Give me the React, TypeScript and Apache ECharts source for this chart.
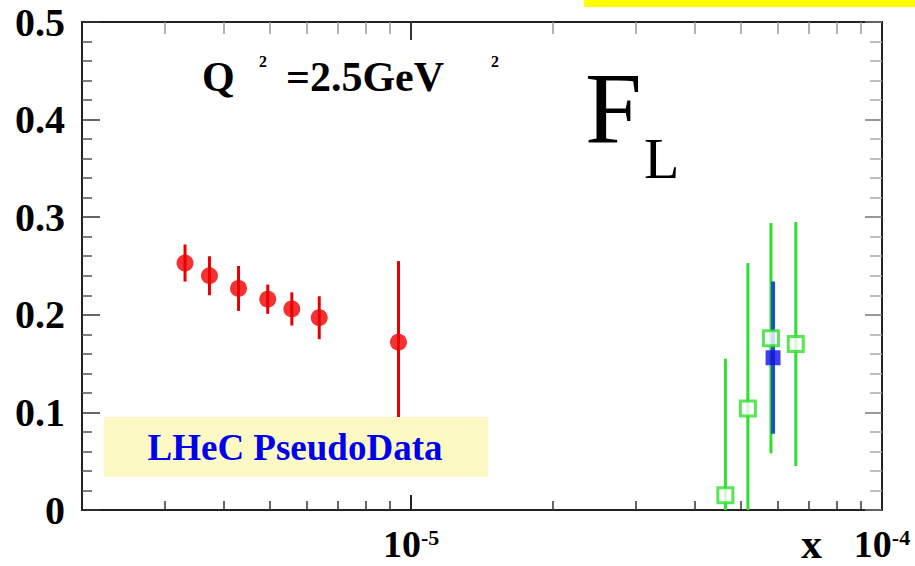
import React, { useEffect, useRef } from 'react';
import * as echarts from 'echarts';

// ---- data ----
const redX = [3.31e-6, 3.73e-6, 4.3e-6, 4.96e-6, 5.58e-6, 6.38e-6, 9.4e-6];
const redY = [0.253, 0.240, 0.227, 0.216, 0.206, 0.197, 0.172];
const redErr = [0.019, 0.020, 0.023, 0.015, 0.017, 0.022, 0.083];

const greenX = [4.65e-5, 5.19e-5, 5.81e-5, 6.56e-5];
const greenY = [0.015, 0.104, 0.176, 0.170];
const greenErr = [0.140, 0.149, 0.118, 0.125];

const blueX = [5.87e-5];
const blueY = [0.156];
const blueErr = [0.078];

const xMin = 2e-6;
const xMax = 1e-4;
const minorTicksX = [3e-6, 4e-6, 5e-6, 6e-6, 7e-6, 8e-6, 9e-6, 2e-5, 3e-5, 4e-5, 5e-5, 6e-5, 7e-5, 8e-5, 9e-5];
const majorTicksX = [1e-5];
const labelTicksX = [1e-5, 1e-4];

const yMin = 0;
const yMax = 0.5;
const yStep = 0.1;

const SERIF = '"Liberation Serif", "Times New Roman", serif';

const lg = (v: number) => Math.log10(v);
const bars = (xs: number[], ys: number[], es: number[]) =>
  xs.map((x, i) => [lg(x), Math.max(yMin, ys[i] - es[i]), Math.min(yMax, ys[i] + es[i])]);
const pts = (xs: number[], ys: number[]) => xs.map((x, i) => [lg(x), ys[i]]);

const errSeries = (name: string, data: number[][], color: string, width: number) => ({
  type: 'custom',
  name,
  data,
  silent: true,
  encode: { x: 0, y: [1, 2] },
  renderItem: (_p: any, api: any) => {
    const a = api.coord([api.value(0), api.value(1)]);
    const b = api.coord([api.value(0), api.value(2)]);
    return {
      type: 'line',
      shape: { x1: a[0], y1: a[1], x2: b[0], y2: b[1] },
      style: { stroke: color, lineWidth: width },
    };
  },
});

export default function App() {
  const ref = useRef<HTMLDivElement>(null);
  useEffect(() => {
    if (!ref.current) return;
    const chart = echarts.init(ref.current, undefined, { renderer: 'svg' });
    const axisLine = { show: true, onZero: false, lineStyle: { color: '#222', width: 2 } };
    const option: any = {
      animation: false,
      backgroundColor: '#ffffff',
      grid: { left: 82, right: 33, top: 22, bottom: 56 },
      xAxis: [
        {
          type: 'value', position: 'bottom', min: lg(xMin), max: lg(xMax),
          axisLine, splitLine: { show: false },
          axisTick: { show: true, inside: true, length: 9, customValues: minorTicksX.map(lg), lineStyle: { color: '#333', width: 1.5 } },
          axisLabel: {
            show: true, margin: 16, customValues: labelTicksX.map(lg),
            formatter: (v: number) => `{b|10}{s|${Math.round(v)}}`,
            rich: {
              b: { fontSize: 38, fontWeight: 'bold', fontFamily: SERIF, color: '#000', lineHeight: 36 },
              s: { fontSize: 22, fontWeight: 'bold', fontFamily: SERIF, color: '#000', lineHeight: 10, verticalAlign: 'top' },
            },
          },
        },
        {
          type: 'value', position: 'bottom', min: lg(xMin), max: lg(xMax),
          axisLine: { show: false, onZero: false }, splitLine: { show: false },
          axisTick: { show: true, inside: true, length: 15, customValues: majorTicksX.map(lg), lineStyle: { color: '#222', width: 2 } },
          axisLabel: { show: false },
        },
        {
          type: 'value', position: 'top', min: lg(xMin), max: lg(xMax),
          axisLine, splitLine: { show: false },
          axisTick: { show: true, inside: true, length: 12, customValues: minorTicksX.map(lg), lineStyle: { color: '#999', width: 1.5 } },
          axisLabel: { show: false },
        },
        {
          type: 'value', position: 'top', min: lg(xMin), max: lg(xMax),
          axisLine: { show: false, onZero: false }, splitLine: { show: false },
          axisTick: { show: true, inside: true, length: 18, customValues: majorTicksX.map(lg), lineStyle: { color: '#333', width: 2 } },
          axisLabel: { show: false },
        },
      ],
      yAxis: [
        {
          type: 'value', position: 'left', min: yMin, max: yMax, interval: yStep,
          axisLine, splitLine: { show: false },
          axisTick: { show: true, inside: true, length: 18, lineStyle: { color: '#333', width: 1.5 } },
          minorTick: { show: true, splitNumber: 5, length: 10, lineStyle: { color: '#555', width: 1.5 } },
          axisLabel: { margin: 17, fontSize: 40, fontWeight: 'bold', fontFamily: SERIF, color: '#000' },
        },
        {
          type: 'value', position: 'right', min: yMin, max: yMax, interval: yStep,
          axisLine, splitLine: { show: false },
          axisTick: { show: true, inside: true, length: 17, lineStyle: { color: '#777', width: 1.5 } },
          minorTick: { show: true, splitNumber: 5, length: 12, lineStyle: { color: '#aaa', width: 1.5 } },
          axisLabel: { show: false },
        },
      ],
      series: [
        errSeries('green errors', bars(greenX, greenY, greenErr), '#2ee02e', 3),
        errSeries('blue errors', bars(blueX, blueY, blueErr), '#1f4fc4', 4),
        {
          type: 'scatter', name: 'blue', data: pts(blueX, blueY), symbol: 'rect', symbolSize: 15,
          itemStyle: { color: '#1212e6' }, silent: true,
        },
        {
          type: 'scatter', name: 'green', data: pts(greenX, greenY), symbol: 'rect', symbolSize: 15,
          itemStyle: { color: '#ffffff', borderColor: '#2ee02e', borderWidth: 3 }, silent: true,
        },
        errSeries('red errors', bars(redX, redY, redErr), '#e80000', 3),
        {
          type: 'scatter', name: 'red', data: pts(redX, redY), symbol: 'circle', symbolSize: 17,
          itemStyle: { color: '#f00000' }, silent: true,
        },
      ],
      graphic: [
        { type: 'rect', z: 100, shape: { x: 584, y: 0, width: 331, height: 7 }, style: { fill: '#ffff00' } },
        { type: 'rect', z: 100, shape: { x: 104, y: 417, width: 384, height: 60 }, style: { fill: '#fcf9c5' } },
        {
          type: 'text', z: 101, x: 295, y: 447,
          style: { text: 'LHeC PseudoData', fontSize: 37, fontWeight: 'bold', fontFamily: SERIF, fill: '#0000ee', align: 'center', verticalAlign: 'middle' },
        },
        {
          type: 'text', z: 101, x: 202, y: 77,
          style: { text: 'Q', fontSize: 42, fontWeight: 'bold', fontFamily: SERIF, fill: '#000', align: 'left', verticalAlign: 'middle' },
        },
        {
          type: 'text', z: 101, x: 259, y: 61,
          style: { text: '2', fontSize: 16, fontWeight: 'bold', fontFamily: SERIF, fill: '#000', align: 'left', verticalAlign: 'middle' },
        },
        {
          type: 'text', z: 101, x: 286, y: 77,
          style: { text: '=2.5GeV', fontSize: 42, fontWeight: 'bold', fontFamily: SERIF, fill: '#000', align: 'left', verticalAlign: 'middle' },
        },
        {
          type: 'text', z: 101, x: 491, y: 61,
          style: { text: '2', fontSize: 16, fontWeight: 'bold', fontFamily: SERIF, fill: '#000', align: 'left', verticalAlign: 'middle' },
        },
        {
          type: 'text', z: 101, x: 585, y: 108,
          style: { text: 'F', fontSize: 102, fontFamily: SERIF, fill: '#000', align: 'left', verticalAlign: 'middle' },
        },
        {
          type: 'text', z: 101, x: 644, y: 158,
          style: { text: 'L', fontSize: 58, fontFamily: SERIF, fill: '#000', align: 'left', verticalAlign: 'middle' },
        },
        {
          type: 'text', z: 101, x: 801, y: 544,
          style: { text: 'x', fontSize: 42, fontWeight: 'bold', fontFamily: SERIF, fill: '#000', align: 'left', verticalAlign: 'middle' },
        },
      ],
    };
    chart.setOption(option);
    return () => chart.dispose();
  }, []);
  return <div ref={ref} style={{ position: 'absolute', left: 0, top: 0, width: 915, height: 566 }} />;
}
